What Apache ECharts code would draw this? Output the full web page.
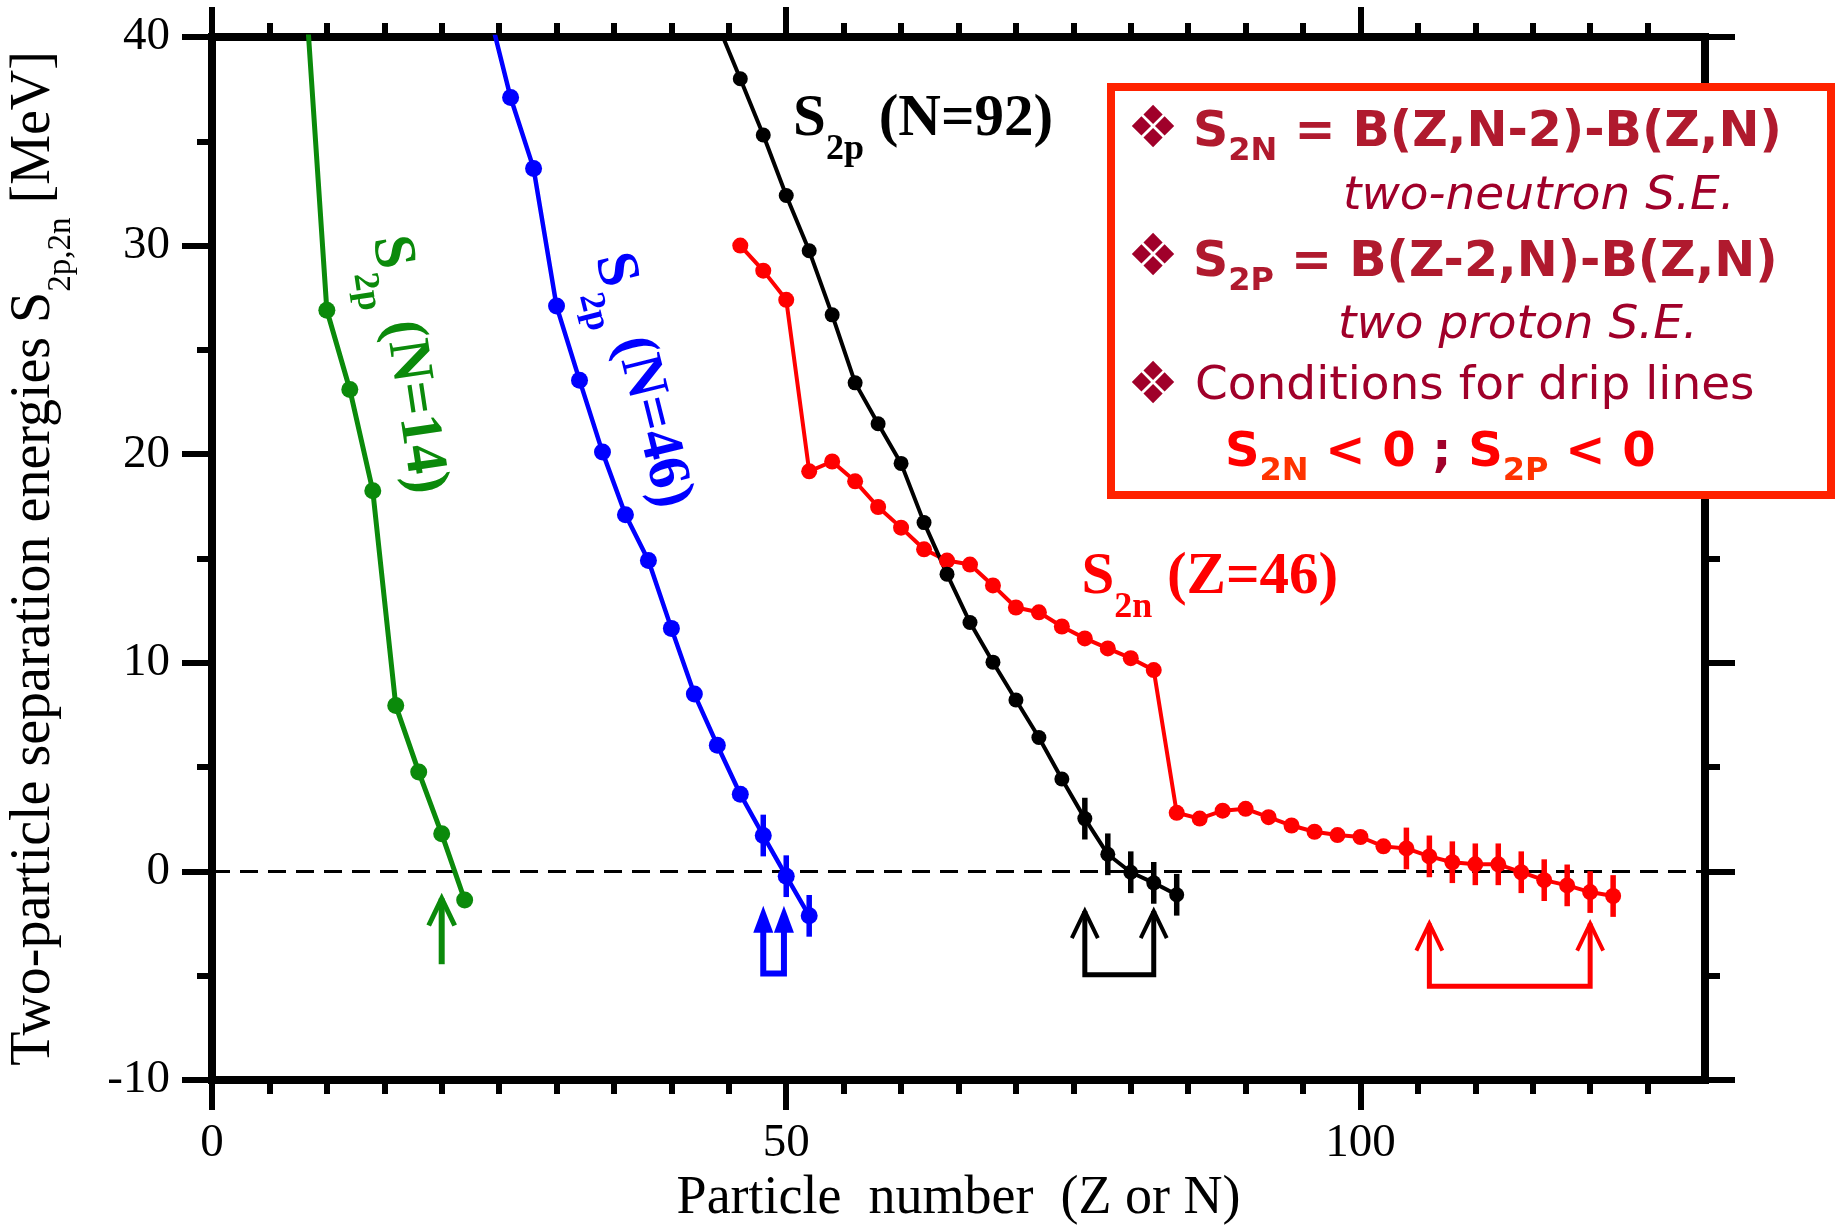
<!DOCTYPE html>
<html>
<head>
<meta charset="utf-8">
<script src="https://cdn.jsdelivr.net/npm/echarts@6/dist/echarts.min.js"></script>
<style>
  html, body { margin: 0; padding: 0; background: #fff; }
  #chart { width: 1841px; height: 1226px; }
</style>
</head>
<body>
<div id="chart"></div>
<script>
// ---- Data -------------------------------------------------------------
// S2p along the N = 14 isotone (x = proton number Z)
const n14X = [8, 10, 12, 14, 16, 18, 20, 22];
const n14Y = [43.4, 26.9, 23.1, 18.25, 7.95, 4.77, 1.8, -1.37];
const n14Err = [0, 0, 0, 0, 0, 0, 0, 0];

// S2p along the N = 46 isotone
const n46X = [24, 26, 28, 30, 32, 34, 36, 38, 40, 42, 44, 46, 48, 50, 52];
const n46Y = [41.5, 37.1, 33.7, 27.1, 23.55, 20.1, 17.1, 14.9, 11.65, 8.5, 6.05, 3.7, 1.72, -0.23, -2.13];
const n46Err = [0, 0, 0, 0, 0, 0, 0, 0, 0, 0, 0, 0, 1, 1, 1];

// S2p along the N = 92 isotone
const n92X = [44, 46, 48, 50, 52, 54, 56, 58, 60, 62, 64, 66, 68, 70, 72, 74, 76, 78, 80, 82, 84];
const n92Y = [40.65, 38.0, 35.3, 32.4, 29.75, 26.68, 23.42, 21.46, 19.56, 16.72, 14.25, 11.93, 10.03, 8.22, 6.42, 4.43, 2.53, 0.82, -0.04, -0.55, -1.12];
const n92Err = [0, 0, 0, 0, 0, 0, 0, 0, 0, 0, 0, 0, 0, 0, 0, 0, 1, 1, 1, 1, 1];

// S2n along the Z = 46 isotope chain (x = neutron number N)
const z46X = [46, 48, 50, 52, 54, 56, 58, 60, 62, 64, 66, 68, 70, 72, 74, 76, 78, 80, 82, 84,
              86, 88, 90, 92, 94, 96, 98, 100, 102, 104, 106, 108, 110, 112, 114, 116, 118, 120, 122];
const z46Y = [30.0, 28.8, 27.4, 19.18, 19.65, 18.7, 17.47, 16.48, 15.44, 14.9, 14.71, 13.71, 12.65, 12.42, 11.74, 11.17, 10.69, 10.22, 9.65, 2.81,
              2.53, 2.91, 3.0, 2.6, 2.2, 1.9, 1.74, 1.65, 1.2, 1.1, 0.72, 0.44, 0.34, 0.34, -0.04, -0.42, -0.67, -0.99, -1.18];
const z46Err = [0, 0, 0, 0, 0, 0, 0, 0, 0, 0, 0, 0, 0, 0, 0, 0, 0, 0, 0, 0,
                0, 0, 0, 0, 0, 0, 0, 0, 0, 1, 1, 1, 1, 1, 1, 1, 1, 1, 1];

// Drip-line markers: [first x, second x, arrow tip, bracket base]
const n14Drip = [20, 20, -1.3, -4.45];
const n46Drip = [48, 49.8, -1.65, -4.9];
const n92Drip = [76, 82, -1.9, -4.95];
const z46Drip = [106, 120, -2.5, -5.5];

// Reference line S = 0
const zeroLine = [[0, 0], [130, 0]];

// Axis ticks / labels
const xMajor = [0, 50, 100];
const yMajor = [-10, 0, 10, 20, 30, 40];

// ---- Styling helpers --------------------------------------------------
const SERIF = '"Liberation Serif", "Times New Roman", serif';
const SANS = '"DejaVu Sans", Verdana, sans-serif';

const axisLineStyle = { color: '#000', width: 8, cap: 'square' };
const tickStyle = { color: '#000', width: 6 };

function pairs(xs, ys) { return xs.map((x, i) => [x, ys[i]]); }

function curve(name, xs, ys, color, lw, size) {
  return {
    type: 'line', name, data: pairs(xs, ys),
    symbol: 'circle', symbolSize: size, showSymbol: true, clip: true,
    lineStyle: { color, width: lw }, itemStyle: { color },
    z: 3, silent: true, animation: false
  };
}

function errorBars(xs, ys, errs, color, lw) {
  const data = xs.map((x, i) => [x, ys[i] - errs[i], ys[i] + errs[i], errs[i]]).filter(r => r[3] > 0);
  return {
    type: 'custom', data, z: 4, silent: true, animation: false,
    encode: { x: 0, y: [1, 2] },
    renderItem(params, api) {
      const lo = api.coord([api.value(0), api.value(1)]);
      const hi = api.coord([api.value(0), api.value(2)]);
      return { type: 'line', shape: { x1: lo[0], y1: lo[1], x2: hi[0], y2: hi[1] },
               style: { stroke: color, lineWidth: lw } };
    }
  };
}

function dripMarker(d, color, filled, lw) {
  return {
    type: 'custom', data: [d], z: 5, silent: true, animation: false, clip: false,
    encode: { x: [0, 1], y: [2, 3] },
    renderItem(params, api) {
      const L = api.coord([api.value(0), api.value(2)]);
      const R = api.coord([api.value(1), api.value(2)]);
      const yb = api.coord([api.value(0), api.value(3)])[1];
      const hw = filled ? 10 : 13, hh = 27;
      const single = api.value(0) === api.value(1);
      const start = filled ? hh - 4 : 0;
      const path = single
        ? [[L[0], L[1] + start], [L[0], yb]]
        : [[L[0], L[1] + start], [L[0], yb], [R[0], yb], [R[0], R[1] + start]];
      const children = [{ type: 'polyline', shape: { points: path },
        style: { stroke: color, lineWidth: lw, fill: null, lineJoin: 'miter' } }];
      (single ? [L] : [L, R]).forEach(t => {
        const pts = [[t[0] - hw, t[1] + hh], [t[0], t[1]], [t[0] + hw, t[1] + hh]];
        if (filled) children.push({ type: 'polygon', shape: { points: pts }, style: { fill: color } });
        else children.push({ type: 'polyline', shape: { points: pts },
          style: { stroke: color, lineWidth: lw - 1, fill: null, lineJoin: 'miter' } });
      });
      return { type: 'group', children };
    }
  };
}

function valueAxis(extra) {
  return Object.assign({
    type: 'value',
    axisLine: { show: true, onZero: false, lineStyle: axisLineStyle },
    splitLine: { show: false },
    minorSplitLine: { show: false }
  }, extra);
}

const xCommon = {
  min: 0, max: 130, interval: 50,
  axisTick: { show: true, inside: false, length: 30, lineStyle: tickStyle, customValues: xMajor },
  minorTick: { show: true, splitNumber: 10, length: 14, lineStyle: tickStyle }
};
const yCommon = {
  min: -10, max: 40, interval: 10,
  axisTick: { show: true, inside: false, length: 30, lineStyle: tickStyle },
  minorTick: { show: true, splitNumber: 2, length: 15, lineStyle: tickStyle }
};

const option = {
  backgroundColor: '#fff',
  animation: false,
  grid: { left: 212, right: 136, top: 37, bottom: 146, containLabel: false, outerBoundsMode: 'none' },
  xAxis: [
    valueAxis(Object.assign({}, xCommon, {
      position: 'bottom',
      name: 'Particle  number  (Z or N)',
      nameLocation: 'middle', nameGap: 92,
      nameTextStyle: { fontFamily: SERIF, fontSize: 54, color: '#000' },
      axisLabel: {
        show: true, margin: 40, color: '#000', fontFamily: SERIF, fontSize: 47,
        customValues: xMajor,
        formatter: v => (xMajor.indexOf(v) >= 0 ? String(v) : '')
      }
    })),
    valueAxis(Object.assign({}, xCommon, { position: 'top', axisLabel: { show: false } }))
  ],
  yAxis: [
    valueAxis(Object.assign({}, yCommon, {
      position: 'left',
      name: 'Two-particle separation energies S{s|2p,2n} [MeV]',
      nameLocation: 'middle', nameRotate: 90, nameGap: 150,
      nameTextStyle: {
        fontFamily: SERIF, fontSize: 56, color: '#000', lineHeight: 56,
        rich: { s: { fontFamily: SERIF, fontSize: 33, color: '#000', lineHeight: 1,
                     verticalAlign: 'top', padding: [39, 0, 0, 0] } }
      },
      axisLabel: {
        show: true, margin: 42, color: '#000', fontFamily: SERIF, fontSize: 47,
        formatter: v => (yMajor.indexOf(v) >= 0 ? String(v) : '')
      }
    })),
    valueAxis(Object.assign({}, yCommon, { position: 'right', axisLabel: { show: false } }))
  ],
  series: [
    { type: 'line', data: zeroLine, symbol: 'none', silent: true, z: 1, animation: false,
      lineStyle: { color: '#000', width: 3, type: [18, 10] } },
    curve('S2p N=14', n14X, n14Y, '#0b8a0b', 5, 17),
    curve('S2p N=46', n46X, n46Y, '#0000ff', 4.5, 17),
    curve('S2n Z=46', z46X, z46Y, '#ff0000', 4, 16),
    curve('S2p N=92', n92X, n92Y, '#000000', 4, 15),
    errorBars(n46X, n46Y, n46Err, '#0000ff', 5.5),
    errorBars(n92X, n92Y, n92Err, '#000000', 5.5),
    errorBars(z46X, z46Y, z46Err, '#ff0000', 5.5),
    dripMarker(n14Drip, '#0b8a0b', false, 6),
    dripMarker(n46Drip, '#0000ff', true, 6),
    dripMarker(n92Drip, '#000000', false, 5),
    dripMarker(z46Drip, '#ff0000', false, 5)
  ]
};

const chart = echarts.init(document.getElementById('chart'), null, { renderer: 'canvas' });
chart.setOption(option);

// ---- Curve labels and the definition box ------------------------------
const px = (x, y) => chart.convertToPixel({ xAxisIndex: 0, yAxisIndex: 0 }, [x, y]);

function curveLabel(at, text, color, rotDeg, align) {
  const p = px(at[0], at[1]);
  return {
    type: 'text', x: p[0], y: p[1], rotation: rotDeg * Math.PI / 180, z: 50, silent: true,
    style: {
      text, fill: color, align, verticalAlign: 'middle',
      fontFamily: SERIF, fontWeight: 'bold', fontSize: 59, lineHeight: 59,
      rich: { s: { fill: color, fontFamily: SERIF, fontWeight: 'bold', fontSize: 36,
                   lineHeight: 1, verticalAlign: 'top', padding: [42, 0, 0, 0] } }
    }
  };
}

const BOLD_RED = '#b01a2e';
const DARK_RED = '#a0002a';

function boxLine(x, y, text, opts) {
  return {
    type: 'text', x, y, z: 102, silent: true,
    style: Object.assign({
      text, align: 'left', verticalAlign: 'middle', fontFamily: SANS
    }, opts)
  };
}

function bullet(x, y) {
  return { type: 'text', x, y, z: 102, silent: true,
    style: { text: '\u2756', fill: DARK_RED, fontFamily: SANS, fontSize: 58,
             align: 'center', verticalAlign: 'middle' } };
}

const subBold = (color, pad) => ({ fill: color, fontFamily: SANS, fontWeight: 'bold', fontSize: 32,
  lineHeight: 1, verticalAlign: 'top', padding: [pad, 0, 0, 0] });

chart.setOption({
  graphic: [
    curveLabel([17.07, 24.3], 'S{s|2p} (N=14)', '#0b8a0b', -81.5, 'center'),
    curveLabel([37.44, 23.54], 'S{s|2p} (N=46)', '#0000ff', -76, 'center'),
    curveLabel([50.6, 36.05], 'S{s|2p} (N=92)', '#000000', 0, 'left'),
    curveLabel([75.7, 14.1], 'S{s|2n} (Z=46)', '#ff0000', 0, 'left'),
    {
      type: 'rect', z: 100, silent: true,
      shape: { x: 1111, y: 87, width: 720, height: 408 },
      style: { fill: '#fff', stroke: '#ff2200', lineWidth: 8 }
    },
    bullet(1153, 131.5),
    bullet(1153, 259.5),
    bullet(1153, 387.5),
    boxLine(1193, 133, 'S{s|2N} = B(Z,N-2)-B(Z,N)', {
      fill: BOLD_RED, fontWeight: 'bold', fontSize: 49, lineHeight: 49,
      rich: { s: subBold(BOLD_RED, 27) }
    }),
    boxLine(1343, 196.7, 'two-neutron S.E.', {
      fill: DARK_RED, fontStyle: 'italic', fontSize: 47, lineHeight: 47
    }),
    boxLine(1193, 263, 'S{s|2P} = B(Z-2,N)-B(Z,N)', {
      fill: BOLD_RED, fontWeight: 'bold', fontSize: 49, lineHeight: 49,
      rich: { s: subBold(BOLD_RED, 27) }
    }),
    boxLine(1338, 325.7, 'two proton S.E.', {
      fill: DARK_RED, fontStyle: 'italic', fontSize: 47, lineHeight: 47
    }),
    boxLine(1195, 386.7, 'Conditions for drip lines', {
      fill: DARK_RED, fontSize: 47, lineHeight: 47
    }),
    boxLine(1225, 453.4, 'S{s|2N} < 0 {d|;} S{s|2P} < 0', {
      fill: '#ff0000', fontWeight: 'bold', fontSize: 48, lineHeight: 48,
      rich: {
        s: subBold('#ff3300', 26.5),
        d: { fill: DARK_RED, fontFamily: SANS, fontWeight: 'bold', fontSize: 48, lineHeight: 48 }
      }
    })
  ]
});
</script>
</body>
</html>
